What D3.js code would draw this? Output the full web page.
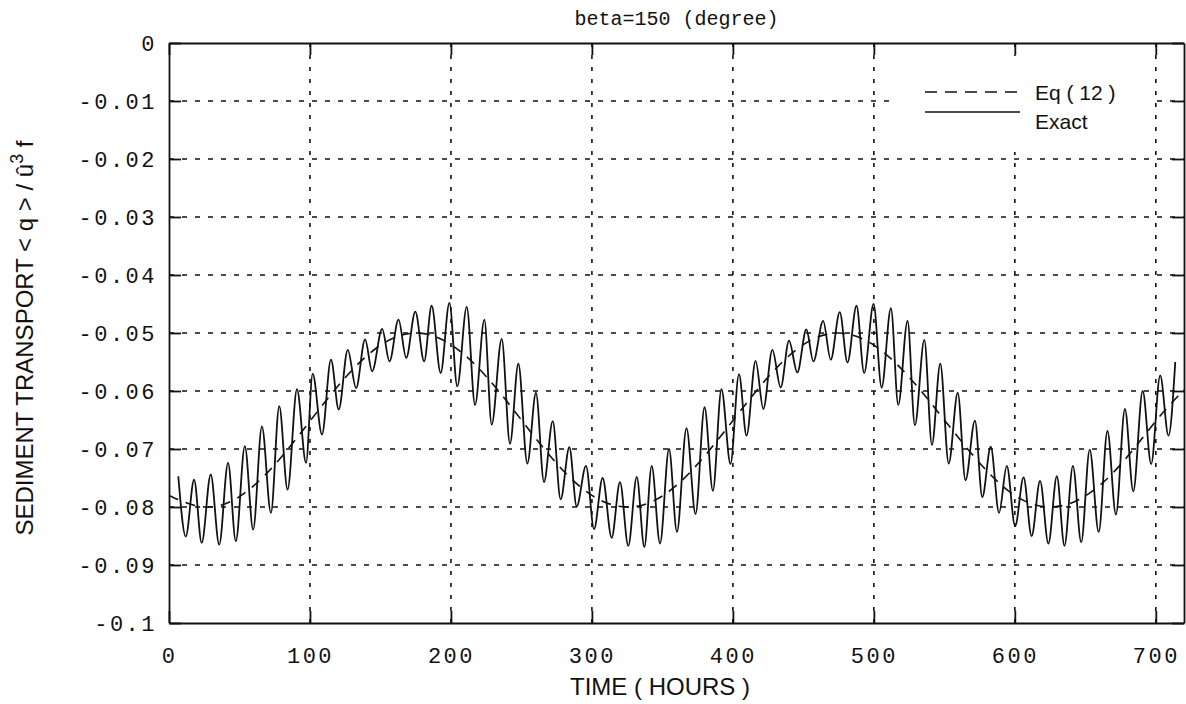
<!DOCTYPE html>
<html>
<head>
<meta charset="utf-8">
<script src="https://cdn.jsdelivr.net/npm/d3@7"></script>
<style>
  body { margin: 0; background: #fff; }
  svg { display: block; }
</style>
</head>
<body>
<div id="chart"></div>
<script>
// Tick values and labels
const xTicks = [0, 100, 200, 300, 400, 500, 600, 700];
const yTicks = [0, -0.01, -0.02, -0.03, -0.04, -0.05, -0.06, -0.07, -0.08, -0.09, -0.1];
const yTickLabels = ["0", "-0.01", "-0.02", "-0.03", "-0.04", "-0.05", "-0.06", "-0.07", "-0.08", "-0.09", "-0.1"];

// Eq (12) curve
const eqTime = [0, 25, 50, 75, 100, 125, 150, 175, 200, 225, 250, 275, 300, 325, 350, 375,
  400, 425, 450, 475, 500, 525, 550, 575, 600, 625, 650, 675, 700, 720];
const eqValue = [-0.0780, -0.0800, -0.0782, -0.0727, -0.0652, -0.0577, -0.0521, -0.0500,
  -0.0520, -0.0575, -0.0650, -0.0725, -0.0780, -0.0800, -0.0781, -0.0726,
  -0.0651, -0.0576, -0.0520, -0.0500, -0.0521, -0.0576, -0.0650, -0.0724,
  -0.0780, -0.0800, -0.0781, -0.0727, -0.0652, -0.0598];

// Exact curve: peaks and troughs
const exactTime = [6.6, 11.9, 17.8, 23.2, 29.6, 35.6, 41.9, 47.4, 53.8, 59.7, 65.9, 72.3, 78.2, 84.1,
  90.8, 97.2, 101.9, 108.5, 114.9, 120.4, 126.8, 132.7, 139.1, 144.1, 151.2, 156.4, 162.8, 168.3,
  174.7, 181.0, 186.3, 192.7, 198.9, 204.5, 211.2, 217.1, 223.7, 228.9, 236.0, 241.9, 247.8, 254.2,
  260.3, 266.0, 272.2, 277.8, 284.0, 289.2, 295.8, 301.5, 307.6, 314.0, 319.9, 325.8, 331.8, 337.2,
  342.4, 348.3, 354.7, 360.3, 367.1, 373.5, 379.9, 385.8, 391.9, 398.3, 404.3, 409.7, 416.1, 421.6,
  428.0, 433.9, 439.8, 445.7, 452.1, 457.1, 464.0, 469.4, 475.8, 481.3, 487.7, 493.1, 499.8, 505.5,
  512.1, 517.3, 523.9, 529.1, 535.8, 541.2, 547.1, 553.1, 559.5, 565.0, 571.7, 576.9, 582.9, 588.8,
  594.3, 600.2, 606.2, 611.9, 617.9, 623.8, 629.8, 635.2, 641.2, 647.1, 653.1, 659.5, 665.7, 671.7,
  678.1, 684.0, 690.7, 696.7, 703.1, 709.0, 713.8];
const exactValue = [-0.0747, -0.0851, -0.0753, -0.0862, -0.0744, -0.0865, -0.0724, -0.0859, -0.0695,
  -0.0839, -0.0661, -0.0810, -0.0626, -0.0770, -0.0597, -0.0724, -0.0570, -0.0675, -0.0546, -0.0632,
  -0.0529, -0.0595, -0.0511, -0.0566, -0.0493, -0.0549, -0.0477, -0.0543, -0.0463, -0.0549,
  -0.0453, -0.0569, -0.0448, -0.0592, -0.0455, -0.0624, -0.0477, -0.0658, -0.0510, -0.0691,
  -0.0553, -0.0725, -0.0603, -0.0757, -0.0652, -0.0787, -0.0697, -0.0799, -0.0729, -0.0838,
  -0.0750, -0.0853, -0.0757, -0.0867, -0.0748, -0.0869, -0.0729, -0.0863, -0.0700, -0.0843,
  -0.0664, -0.0812, -0.0628, -0.0772, -0.0597, -0.0726, -0.0571, -0.0677, -0.0548, -0.0631,
  -0.0529, -0.0594, -0.0513, -0.0568, -0.0494, -0.0549, -0.0479, -0.0546, -0.0464, -0.0551,
  -0.0453, -0.0569, -0.0450, -0.0594, -0.0457, -0.0624, -0.0479, -0.0659, -0.0512, -0.0693,
  -0.0553, -0.0725, -0.0603, -0.0754, -0.0651, -0.0783, -0.0696, -0.0810, -0.0729, -0.0833,
  -0.0749, -0.0850, -0.0755, -0.0863, -0.0747, -0.0867, -0.0729, -0.0861, -0.0701, -0.0843,
  -0.0669, -0.0813, -0.0631, -0.0773, -0.0600, -0.0726, -0.0573, -0.0677, -0.0550];

const eqData = eqTime.map((t, i) => ({t: t, q: eqValue[i]}));
const exactData = exactTime.map((t, i) => ({t: t, q: exactValue[i]}));

// Dimensions
const margin = {top: 43, right: 2, bottom: 81, left: 169};
const width = 1186 - margin.left - margin.right;
const height = 704 - margin.top - margin.bottom;

const svg = d3.select("#chart")
  .append("svg")
  .attr("width", 1186)
  .attr("height", 704)
  .append("g")
  .attr("transform", `translate(${margin.left},${margin.top})`);

const x = d3.scaleLinear().domain([0, 720]).range([0, width]);
const y = d3.scaleLinear().domain([-0.1, 0]).range([height, 0]);

const monoFont = "'Liberation Mono', 'DejaVu Sans Mono', monospace";
const sansFont = "'Liberation Sans', Arial, sans-serif";

// Grid lines
svg.selectAll(".hgrid")
  .data(yTicks.slice(1, -1))
  .enter()
  .append("line")
  .attr("x1", 0)
  .attr("x2", width)
  .attr("y1", d => y(d))
  .attr("y2", d => y(d))
  .attr("stroke", "#111")
  .attr("stroke-width", 1.6)
  .attr("stroke-dasharray", "5,8");

svg.selectAll(".vgrid")
  .data(xTicks.slice(1))
  .enter()
  .append("line")
  .attr("x1", d => x(d))
  .attr("x2", d => x(d))
  .attr("y1", 0)
  .attr("y2", height)
  .attr("stroke", "#111")
  .attr("stroke-width", 1.6)
  .attr("stroke-dasharray", "4,8");

// Legend box sits over the grid, under the axes
const legendItems = [
  {label: "Eq ( 12 )", dash: "12,8", lineY: 0, textY: 8},
  {label: "Exact", dash: null, lineY: 20, textY: 37}
];
const legend = svg.append("g")
  .attr("transform", `translate(${925 - margin.left},${92 - margin.top})`);

legend.append("rect")
  .attr("x", -33)
  .attr("y", -36)
  .attr("width", 260)
  .attr("height", 96)
  .attr("fill", "#fff");

// Axes with inward ticks
const bottomAxis = svg.append("g")
  .attr("transform", `translate(0,${height})`)
  .call(d3.axisBottom(x).tickValues(xTicks).tickSizeInner(-12).tickSizeOuter(0).tickPadding(24)
    .tickFormat(d => String(d)));

const leftAxis = svg.append("g")
  .call(d3.axisLeft(y).tickValues(yTicks).tickSizeInner(-12).tickSizeOuter(0).tickPadding(12)
    .tickFormat((d, i) => yTickLabels[i]));

svg.append("g")
  .call(d3.axisTop(x).tickValues(xTicks).tickSizeInner(-12).tickSizeOuter(0).tickFormat(""));

svg.append("g")
  .attr("transform", `translate(${width},0)`)
  .call(d3.axisRight(y).tickValues(yTicks).tickSizeInner(-12).tickSizeOuter(0).tickFormat(""));

svg.selectAll(".domain, .tick line")
  .attr("stroke", "#111")
  .attr("stroke-width", 1.8);

bottomAxis.selectAll("text")
  .attr("font-family", monoFont)
  .attr("font-size", 22)
  .attr("letter-spacing", 2.5)
  .attr("fill", "#111");

leftAxis.selectAll("text")
  .attr("font-family", monoFont)
  .attr("font-size", 22)
  .attr("letter-spacing", 2.5)
  .attr("fill", "#111");

// Curves
const line = d3.line()
  .x(d => x(d.t))
  .y(d => y(d.q))
  .curve(d3.curveMonotoneX);

svg.append("path")
  .datum(eqData)
  .attr("fill", "none")
  .attr("stroke", "#111")
  .attr("stroke-width", 1.6)
  .attr("stroke-dasharray", "10,8")
  .attr("d", d3.line().x(d => x(d.t)).y(d => y(d.q)).curve(d3.curveNatural));

svg.append("path")
  .datum(exactData)
  .attr("fill", "none")
  .attr("stroke", "#111")
  .attr("stroke-width", 1.8)
  .attr("d", line);

// Legend entries
legendItems.forEach(item => {
  legend.append("line")
    .attr("x1", 0)
    .attr("x2", 95)
    .attr("y1", item.lineY)
    .attr("y2", item.lineY)
    .attr("stroke", "#111")
    .attr("stroke-width", 1.6)
    .attr("stroke-dasharray", item.dash);

  legend.append("text")
    .attr("x", 110)
    .attr("y", item.textY)
    .attr("font-family", sansFont)
    .attr("font-size", 21)
    .attr("fill", "#111")
    .text(item.label);
});

// Title
svg.append("text")
  .attr("x", width / 2)
  .attr("y", -18)
  .attr("text-anchor", "middle")
  .attr("font-family", monoFont)
  .attr("font-size", 20)
  .attr("fill", "#111")
  .text("beta=150 (degree)");

// X-axis label
svg.append("text")
  .attr("x", 660 - margin.left)
  .attr("y", height + 72)
  .attr("text-anchor", "middle")
  .attr("font-family", sansFont)
  .attr("font-size", 24)
  .attr("fill", "#111")
  .text("TIME ( HOURS )");

// Y-axis label
const yLabel = svg.append("text")
  .attr("transform", "rotate(-90)")
  .attr("x", -(338 - margin.top))
  .attr("y", -136)
  .attr("text-anchor", "middle")
  .attr("font-family", sansFont)
  .attr("font-size", 24)
  .attr("fill", "#111");
yLabel.append("tspan").text("SEDIMENT TRANSPORT  < q > / \u00fb");
yLabel.append("tspan").attr("dy", -10).attr("font-size", 18).text("3");
yLabel.append("tspan").attr("dy", 10).text(" f");
</script>
</body>
</html>
